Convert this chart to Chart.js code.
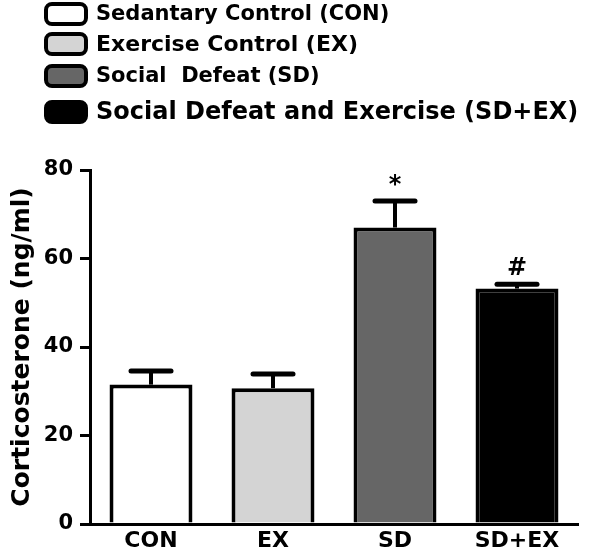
<!DOCTYPE html>
<html>
<head>
<meta charset="utf-8">
<script src="https://cdn.jsdelivr.net/npm/chart.js@4"></script>
<style>
  html, body { margin: 0; padding: 0; background: #fff; }
  #wrap { width: 600px; height: 554px; }
</style>
</head>
<body>
<div id="wrap"><canvas id="chart" width="600" height="554"></canvas></div>
<script>
// data
const groups = ['CON', 'EX', 'SD', 'SD+EX'];
const means = [31.5, 30.7, 67.0, 53.2];
const errTop = [34.6, 33.9, 73.0, 54.2];
const marks = ['', '', '*', '#'];
const yTicks = [0, 20, 40, 60, 80];
const legendLabels = [
  'Sedantary Control (CON)',
  'Exercise Control (EX)',
  'Social  Defeat (SD)',
  'Social Defeat and Exercise (SD+EX)'
];
const barColors = ['#ffffff', '#d4d4d4', '#666666', '#000000'];

const FONT = 'DejaVu Sans';

// legend drawn in the top padding, one row per group
const legendPlugin = {
  id: 'stackLegend',
  afterDraw(chart) {
    const ctx = chart.ctx;
    const rows = [
      { y: 3, h: 22, size: 21 },
      { y: 33, h: 22, size: 22 },
      { y: 65, h: 22, size: 21 },
      { y: 101, h: 22, size: 24 }
    ];
    ctx.save();
    rows.forEach((r, i) => {
      ctx.beginPath();
      ctx.roundRect(46, r.y + 1, 40, r.h - 2, 6);
      ctx.fillStyle = barColors[i];
      ctx.fill();
      ctx.lineWidth = 4;
      ctx.strokeStyle = '#000';
      ctx.stroke();
      ctx.fillStyle = '#000';
      ctx.font = 'bold ' + r.size + 'px "' + FONT + '"';
      ctx.textBaseline = 'middle';
      ctx.textAlign = 'left';
      ctx.fillText(legendLabels[i], 96, r.y + r.h / 2 + 1);
    });
    ctx.restore();
  }
};

// SEM bars and significance marks
const errorPlugin = {
  id: 'errorBars',
  afterDatasetsDraw(chart) {
    const ctx = chart.ctx;
    const meta = chart.getDatasetMeta(0);
    const y = chart.scales.y;
    ctx.save();
    ctx.strokeStyle = '#000';
    meta.data.forEach((bar, i) => {
      const x = bar.x;
      const yb = y.getPixelForValue(means[i]);
      const yt = y.getPixelForValue(errTop[i]);
      ctx.lineWidth = 4;
      ctx.beginPath();
      ctx.moveTo(x, yb);
      ctx.lineTo(x, yt);
      ctx.stroke();
      ctx.lineWidth = 5;
      ctx.lineCap = 'round';
      ctx.beginPath();
      ctx.moveTo(x - 20, yt);
      ctx.lineTo(x + 20, yt);
      ctx.stroke();
      ctx.lineCap = 'butt';
      if (marks[i]) {
        ctx.fillStyle = '#000';
        ctx.font = 'bold 24px "' + FONT + '"';
        ctx.textAlign = 'center';
        ctx.textBaseline = 'bottom';
        ctx.fillText(marks[i], x, yt - 3);
      }
    });
    ctx.restore();
  }
};

new Chart(document.getElementById('chart'), {
  type: 'bar',
  data: {
    labels: groups,
    datasets: [{
      data: means,
      backgroundColor: barColors,
      borderColor: '#000',
      borderWidth: 4,
      borderRadius: 0,
      borderSkipped: 'bottom',
      barPercentage: 0.68,
      categoryPercentage: 1
    }]
  },
  options: {
    responsive: false,
    animation: false,
    layout: { padding: { top: 170, right: 22, left: 0, bottom: 0 } },
    plugins: { legend: { display: false }, tooltip: { enabled: false } },
    scales: {
      x: {
        grid: { display: false, drawTicks: false },
        border: { display: true, color: '#000', width: 3 },
        ticks: { color: '#000', font: { family: FONT, size: 22, weight: 'bold' }, padding: 4 },
        afterFit(s) { s.height = 30; }
      },
      y: {
        min: 0,
        max: 80,
        afterBuildTicks(s) { s.ticks = yTicks.map(v => ({ value: v })); },
        grid: { display: true, drawOnChartArea: false, drawTicks: true, tickLength: 10, color: '#000', lineWidth: 3 },
        border: { display: true, color: '#000', width: 3 },
        ticks: { color: '#000', font: { family: FONT, size: 21, weight: 'bold' }, padding: 7 },
        title: {
          display: true,
          text: 'Corticosterone (ng/ml)',
          color: '#000',
          font: { family: FONT, size: 25, weight: 'bold' },
          padding: { top: 7, bottom: 0 }
        },
        afterFit(s) { s.width = 90; }
      }
    }
  },
  plugins: [legendPlugin, errorPlugin]
});
</script>
</body>
</html>
